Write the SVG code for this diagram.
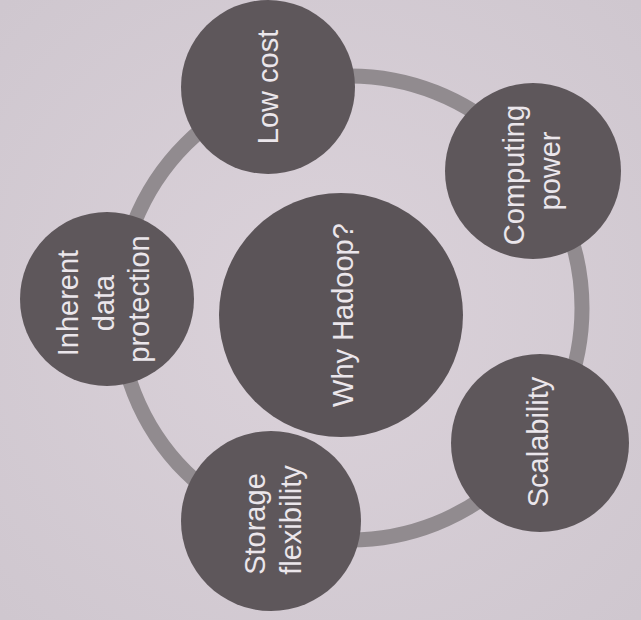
<svg xmlns="http://www.w3.org/2000/svg" width="641" height="620" viewBox="0 0 641 620">
  <defs>
    <radialGradient id="paper" cx="50%" cy="50%" r="70%">
      <stop offset="0" stop-color="#dbd2da"/>
      <stop offset="1" stop-color="#cfc7cf"/>
    </radialGradient>
    <style>
      .bubble { fill: #5e575b; }
      .hub { fill: #5b5458; }
      .ring { fill: none; stroke: #918b8f; stroke-width: 15; }
      .label { font-family: "Liberation Sans", Arial, sans-serif; font-size: 29px; fill: #ebe6eb; text-anchor: middle; }
    </style>
  </defs>

  <rect width="641" height="620" fill="url(#paper)"/>

  <!-- connecting ring behind the bubbles -->
  <g id="connectors">
    <circle class="ring" cx="350" cy="308" r="232"/>
  </g>

  <g id="hub">
    <circle class="hub" cx="341" cy="315" r="122"/>
    <text class="label" font-size="31" transform="translate(341,315) rotate(-90)" y="12">Why Hadoop?</text>
  </g>

  <g id="low-cost">
    <circle class="bubble" cx="268" cy="87" r="87"/>
    <text class="label" transform="translate(267,87) rotate(-90)" y="11">Low cost</text>
  </g>

  <g id="computing-power">
    <circle class="bubble" cx="533" cy="171" r="88"/>
    <text class="label" transform="translate(533,171) rotate(-90)">
      <tspan x="0" y="-9">Computing</tspan>
      <tspan x="0" y="27">power</tspan>
    </text>
  </g>

  <g id="scalability">
    <circle class="bubble" cx="540" cy="443" r="89"/>
    <text class="label" transform="translate(538,442) rotate(-90)" y="10">Scalability</text>
  </g>

  <g id="storage-flexibility">
    <circle class="bubble" cx="271" cy="521" r="90"/>
    <text class="label" transform="translate(271,520) rotate(-90)">
      <tspan x="0" y="-6">Storage</tspan>
      <tspan x="0" y="30">flexibility</tspan>
    </text>
  </g>

  <g id="inherent-data-protection">
    <circle class="bubble" cx="107" cy="299" r="87"/>
    <text class="label" transform="translate(107,299) rotate(-90)">
      <tspan x="0" y="-29">Inherent</tspan>
      <tspan x="0" y="7">data</tspan>
      <tspan x="0" y="42">protection</tspan>
    </text>
  </g>
</svg>
